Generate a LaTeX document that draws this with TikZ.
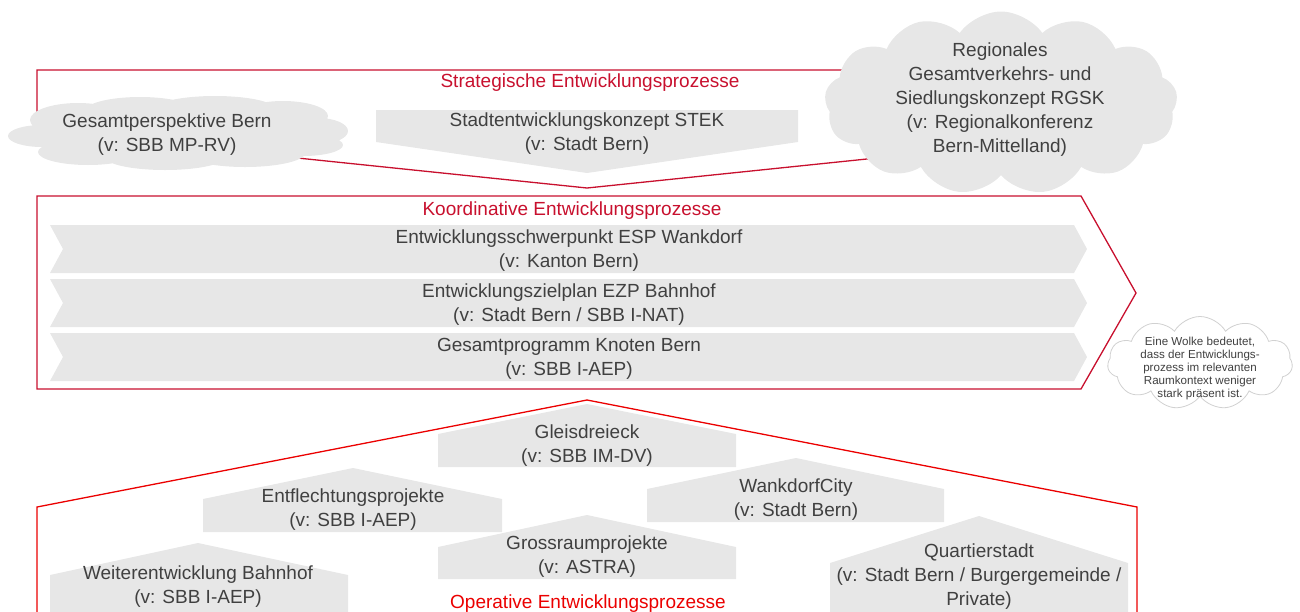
\documentclass[tikz,border=0pt]{standalone}
\usepackage{fontspec}
\setmainfont{Liberation Sans}
\usepackage{xcolor}
\usepackage{tikz}
\usetikzlibrary{shapes.symbols}

\definecolor{sbbred}{RGB}{200,16,46}
\definecolor{oprred}{RGB}{235,0,0}
\definecolor{boxgrey}{RGB}{231,231,231}
\definecolor{txtgrey}{RGB}{64,64,64}

\begin{document}
\begin{tikzpicture}[x=1pt,y=-1pt,
  every node/.style={font=\fontsize{19}{24}\selectfont,text=txtgrey,align=center,inner sep=0pt},
  frame/.style={draw=sbbred,line width=1.3pt,line join=miter},
  opframe/.style={draw=oprred,line width=1.3pt,line join=miter},
  title/.style={text=sbbred},
  procfill/.style={fill=boxgrey},
  greycloud/.style={cloud,cloud puffs=13,cloud puff arc=110,fill=boxgrey,cloud ignores aspect},
  notecloud/.style={cloud,cloud puffs=11,cloud puff arc=120,draw=black!18,line width=.8pt,fill=white,cloud ignores aspect},
  small/.style={font=\fontsize{11.6}{13}\selectfont}]
\clip (0,0) rectangle (1300,611);
% strategische Ebene
\draw[frame] (37,70)--(1137,70)--(1137,131)--(587,188)--(37,131)--cycle;
\node[title] (strat) at (590,83) {Strategische Entwicklungsprozesse};
\fill[procfill] (376,110)--(798,110)--(798,142)--(587,173)--(376,142)--cycle;
\node (stek) at (587,134) {Stadtentwicklungskonzept STEK\\(v: Stadt Bern)};
% flache Wolke aus Ellipsen
\fill[boxgrey] (178,133) ellipse [x radius=150pt,y radius=26pt]
  (78,120) ellipse [x radius=48pt,y radius=17pt]
  (140,111) ellipse [x radius=55pt,y radius=14pt]
  (215,109) ellipse [x radius=60pt,y radius=13pt]
  (283,116) ellipse [x radius=45pt,y radius=15pt]
  (318,131) ellipse [x radius=30pt,y radius=13pt]
  (42,136) ellipse [x radius=34pt,y radius=11pt]
  (88,152) ellipse [x radius=50pt,y radius=13pt]
  (165,157) ellipse [x radius=60pt,y radius=13pt]
  (245,153) ellipse [x radius=60pt,y radius=14pt]
  (303,145) ellipse [x radius=40pt,y radius=11pt];
\node (gp) at (167,135) {Gesamtperspektive Bern\\(v: SBB MP-RV)};
\node[greycloud,minimum width=353pt,minimum height=183pt] (rgskcloud) at (1001,103) {};
\node (rgsk) at (1000,100) {Regionales\\Gesamtverkehrs- und\\Siedlungskonzept RGSK\\(v: Regionalkonferenz\\Bern-Mittelland)};
% koordinative Ebene
\draw[frame] (37,196)--(1081,196)--(1136,293)--(1081,389)--(37,389)--cycle;
\node[title] (koord) at (572,211) {Koordinative Entwicklungsprozesse};
\fill[procfill] (50,225)--(1074,225)--(1087,249)--(1074,273)--(50,273)--(63,249)--cycle;
\fill[procfill] (50,279)--(1074,279)--(1087,303)--(1074,327)--(50,327)--(63,303)--cycle;
\fill[procfill] (50,333)--(1074,333)--(1087,357)--(1074,381)--(50,381)--(63,357)--cycle;
\node (esp) at (569,251) {Entwicklungsschwerpunkt ESP Wankdorf\\(v: Kanton Bern)};
\node (ezp) at (569,305) {Entwicklungszielplan EZP Bahnhof\\(v: Stadt Bern / SBB I-NAT)};
\node (gkb) at (569,359) {Gesamtprogramm Knoten Bern\\(v: SBB I-AEP)};
\node[notecloud,minimum width=185pt,minimum height=93pt] (ncloud) at (1200,363) {};
\node[small] (note) at (1200,368) {Eine Wolke bedeutet,\\dass der Entwicklungs-\\prozess im relevanten\\Raumkontext weniger\\stark präsent ist.};
% operative Ebene
\draw[opframe] (37,640)--(37,507)--(587,400)--(1137,507)--(1137,640);
\fill[procfill] (438,467)--(438,434)--(587,404)--(736,434)--(736,467)--cycle;
\fill[procfill] (203,532)--(203,499)--(353,468)--(502,499)--(502,532)--cycle;
\fill[procfill] (647,522)--(647,489)--(796,458)--(944,489)--(944,522)--cycle;
\fill[procfill] (438,579)--(438,547)--(587,515)--(736,547)--(736,579)--cycle;
\fill[procfill] (50,630)--(50,575)--(198,543)--(348,575)--(348,630)--cycle;
\fill[procfill] (830,630)--(830,563)--(979,516)--(1128,563)--(1128,630)--cycle;
\node (gleis) at (587,446) {Gleisdreieck\\(v: SBB IM-DV)};
\node (entfl) at (353,510) {Entflechtungsprojekte\\(v: SBB I-AEP)};
\node (wcity) at (796,500) {WankdorfCity\\(v: Stadt Bern)};
\node (gross) at (587,557) {Grossraumprojekte\\(v: ASTRA)};
\node (weiter) at (198,587) {Weiterentwicklung Bahnhof\\(v: SBB I-AEP)};
\node (quart) at (979,577) {Quartierstadt\\(v: Stadt Bern / Burgergemeinde /\\Private)};
\node[text=oprred] (oper) at (588,604) {Operative Entwicklungsprozesse};
\end{tikzpicture}
\end{document}
